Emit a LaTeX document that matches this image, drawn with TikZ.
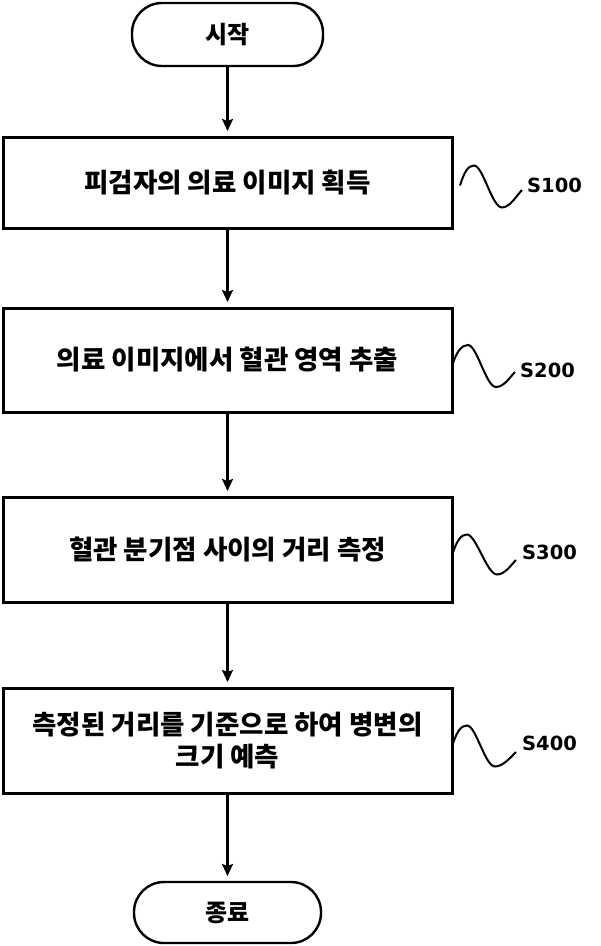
\documentclass[tikz,border=0pt]{standalone}
\usepackage{fontspec}
\setmainfont{Noto Sans CJK KR}
\newfontfamily\labelfont{DejaVu Sans}
\usetikzlibrary{positioning, arrows.meta}

\tikzset{
  terminal/.style={draw, line width=2.4pt, rounded corners=30pt, minimum width=191pt,
    minimum height=63pt, inner sep=0pt, outer sep=0pt, font=\fontsize{24}{32}\selectfont\bfseries},
  stepbox/.style={draw, line width=3pt, minimum width=449pt, inner sep=0pt, outer sep=0pt,
    align=center, font=\fontsize{26.5}{32}\selectfont\bfseries},
  flow/.style={line width=2.2pt, -{Stealth[length=12pt,width=11pt,inset=2pt]}, shorten >=6pt},
  wave/.style={line width=2pt},
  steplabel/.style={inner sep=0pt, font=\labelfont\fontsize{19.5}{20}\selectfont\bfseries},
}

\begin{document}
\begin{tikzpicture}[x=1pt, y=1pt]
        \useasboundingbox (0,0) rectangle (601,-946);

        \node[terminal] (0) at (227.5,-34.5) {시작};
        \node[stepbox, minimum height=91pt, below=71pt of 0]  (1) {피검자의 의료 이미지 획득};
        \node[stepbox, minimum height=104pt, below=80pt of 1] (2) {의료 이미지에서 혈관 영역 추출};
        \node[stepbox, minimum height=105pt, below=85pt of 2] (3) {혈관 분기점 사이의 거리 측정};
        \node[stepbox, minimum height=105pt, below=86pt of 3] (4) {측정된 거리를 기준으로 하여 병변의\\크기 예측};
        \node[terminal, minimum width=187pt, minimum height=61pt, below=89pt of 4] (5) {종료};

        \node[steplabel, right=75pt of 1, yshift=-2.5pt] (s1) {S100};
        \node[steplabel, right=68pt of 2, yshift=-10pt]  (s2) {S200};
        \node[steplabel, right=70pt of 3, yshift=-2.5pt] (s3) {S300};
        \node[steplabel, right=70pt of 4, yshift=-2.5pt] (s4) {S400};

        \draw[flow]
            (0) edge (1)
            (1) edge (2)
            (2) edge (3)
            (3) edge (4)
            (4) edge (5)
            ;

        % squiggles from the boxes to the step numbers
        \draw[wave] ([xshift=8pt,yshift=-3pt]1.east) .. controls +(4,13) and +(-6,0) .. ++(14,20)
            .. controls +(9,0) and +(-10,0) .. ++(28,-42)
            .. controls +(8,0) and +(-5,-5) .. ([xshift=-5pt,yshift=-5pt]s1.west);
        \draw[wave] ([xshift=1pt,yshift=-3pt]2.east) .. controls +(4,12) and +(-6,0) .. ++(15,18)
            .. controls +(9,0) and +(-10,0) .. ++(28,-42)
            .. controls +(8,0) and +(-5,-5) .. ([xshift=-5pt,yshift=-2pt]s2.west);
        \draw[wave] ([xshift=1pt,yshift=-3pt]3.east) .. controls +(4,12) and +(-6,0) .. ++(14,18)
            .. controls +(9,0) and +(-10,0) .. ++(30,-40)
            .. controls +(8,0) and +(-5,-5) .. ([xshift=-6pt,yshift=-8pt]s3.west);
        \draw[wave] ([xshift=1pt,yshift=-3pt]4.east) .. controls +(4,12) and +(-6,0) .. ++(14,18)
            .. controls +(9,0) and +(-10,0) .. ++(28,-41)
            .. controls +(8,0) and +(-5,-5) .. ([xshift=-6pt,yshift=-9pt]s4.west);
\end{tikzpicture}
\end{document}
